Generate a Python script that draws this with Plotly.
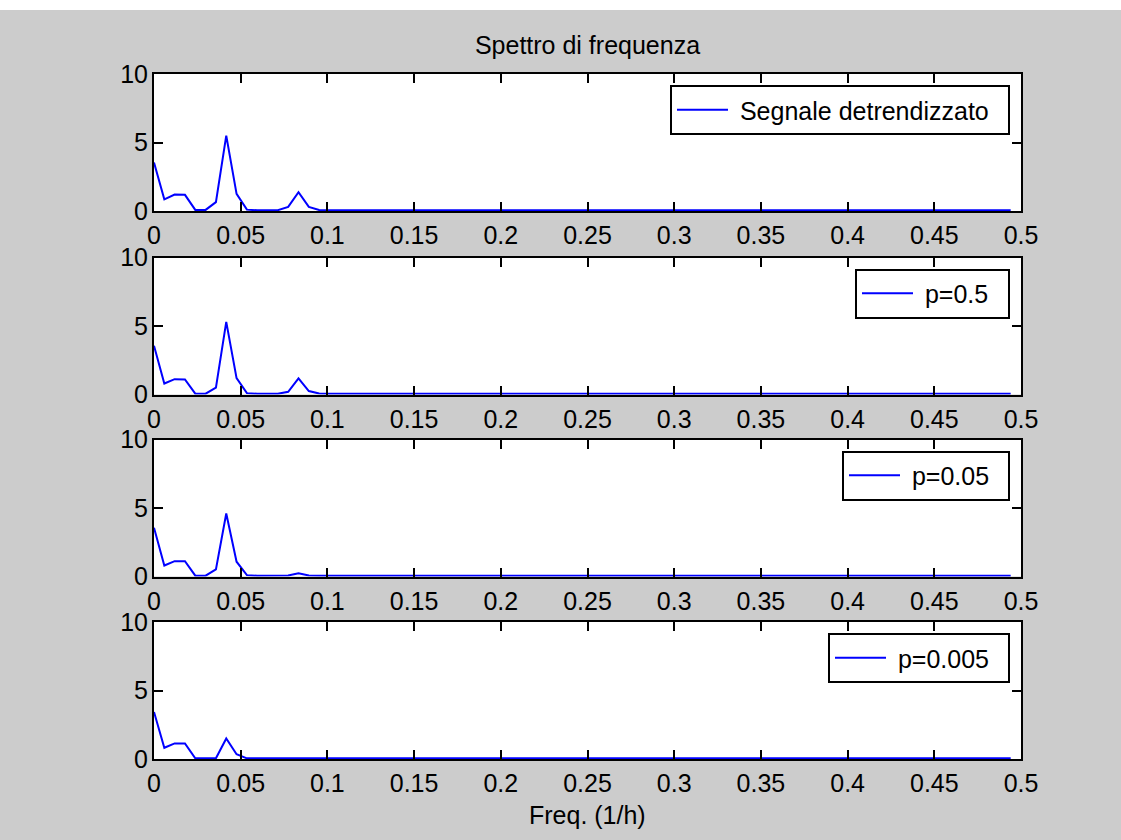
import plotly.graph_objects as go

# ---------------- data ----------------
N_SAMPLES = 168                      # hourly samples -> frequency step 1/168 (1/h)
freq = [k / N_SAMPLES for k in range(84)]

TAIL = [0.05, 0.05, 0.05, 0.05, 0.05, 0.05, 0.05, 0.05, 0.05, 0.05,
        0.05, 0.05, 0.05, 0.05, 0.05, 0.05, 0.05, 0.05, 0.05, 0.05,
        0.05, 0.05, 0.05, 0.05, 0.05, 0.05, 0.05, 0.05, 0.05, 0.05,
        0.05, 0.05, 0.05, 0.05, 0.05, 0.05, 0.05, 0.05, 0.05, 0.05,
        0.05, 0.05, 0.05, 0.05, 0.05, 0.05, 0.05, 0.05, 0.05, 0.05,
        0.05, 0.05, 0.05, 0.05, 0.05, 0.05, 0.05, 0.05, 0.05, 0.05,
        0.05, 0.05, 0.05, 0.05, 0.05, 0.05, 0.05]

spec_detrended = [3.54, 0.85, 1.20, 1.18, 0.08, 0.08, 0.65, 5.50, 1.25, 0.10,
                  0.05, 0.05, 0.06, 0.30, 1.37, 0.30, 0.08] + TAIL
spec_p05 = [3.56, 0.80, 1.12, 1.10, 0.06, 0.06, 0.50, 5.30, 1.20, 0.10,
            0.05, 0.05, 0.05, 0.20, 1.18, 0.25, 0.07] + TAIL
spec_p005 = [3.56, 0.80, 1.12, 1.12, 0.06, 0.06, 0.52, 4.60, 1.08, 0.10,
             0.05, 0.05, 0.05, 0.08, 0.24, 0.08, 0.05] + TAIL
spec_p0005 = [3.43, 0.82, 1.14, 1.14, 0.05, 0.05, 0.05, 1.50, 0.35, 0.05,
              0.05, 0.05, 0.05, 0.05, 0.05, 0.05, 0.05] + TAIL

series = [spec_detrended, spec_p05, spec_p005, spec_p0005]
names = ["Segnale detrendizzato", "p=0.5", "p=0.05", "p=0.005"]

xtick_vals = [0, 0.05, 0.1, 0.15, 0.2, 0.25, 0.3, 0.35, 0.4, 0.45, 0.5]
xtick_text = ["0", "0.05", "0.1", "0.15", "0.2", "0.25", "0.3", "0.35", "0.4", "0.45", "0.5"]
ytick_vals = [0, 5, 10]
ytick_text = ["0", "5", "10"]

title_text = "Spettro di frequenza"
xlabel_text = "Freq. (1/h)"

# ---------------- layout geometry (pixels) ----------------
W, H = 1121, 840
ML, MR, MT, MB = 154, 100, 74, 81
PH = H - MT - MB
PW = W - ML - MR
panel_tops = [74, 257.5, 439.5, 622]
panel_h = 137


def py(pix):
    return (H - MB - pix) / PH


def px(pix):
    return (pix - ML) / PW


FONT = "Liberation Sans, Arial, sans-serif"
FS = 25
GRAY = "#cccccc"
NB = "\u00a0"

fig = go.Figure()
for i, (vals, nm) in enumerate(zip(series, names)):
    sfx = "" if i == 0 else str(i + 1)
    fig.add_trace(go.Scatter(
        x=freq, y=vals, mode="lines", name=NB + nm + NB + NB,
        line=dict(color="#0000ff", width=2),
        xaxis="x" + sfx, yaxis="y" + sfx,
        legend="legend" + sfx, showlegend=True,
    ))

layout = dict(
    width=W, height=H,
    margin=dict(l=ML, r=MR, t=MT, b=MB, pad=0),
    paper_bgcolor=GRAY, plot_bgcolor="white",
    font=dict(family=FONT, size=FS, color="black"),
    title=dict(text=title_text, x=px(587.5), xref="paper", xanchor="center",
               y=1 - 45 / H, yref="container", yanchor="middle",
               font=dict(size=FS, family=FONT, color="black")),
)

for i in range(4):
    sfx = "" if i == 0 else str(i + 1)
    top = panel_tops[i]
    bot = top + panel_h
    dom = [py(bot), py(top)]
    axcommon = dict(showline=True, linecolor="black", linewidth=2, mirror="ticks",
                    ticks="inside", ticklen=9, tickwidth=2, tickcolor="black",
                    showgrid=False, zeroline=False,
                    tickfont=dict(family=FONT, size=FS, color="black"))
    layout["xaxis" + sfx] = dict(axcommon, domain=[0, 1], range=[0, 0.5],
                                 tickvals=xtick_vals, ticktext=xtick_text,
                                 anchor="y" + sfx, ticklabelstandoff=1)
    layout["yaxis" + sfx] = dict(axcommon, domain=dom, range=[0, 10],
                                 tickvals=ytick_vals, ticktext=ytick_text,
                                 anchor="x" + sfx, ticklabelstandoff=-1)
    layout["legend" + sfx] = dict(
        x=px(1010), xanchor="right", xref="paper",
        y=py(top + 11), yanchor="top", yref="paper",
        bgcolor="white", bordercolor="black", borderwidth=2,
        font=dict(family=FONT, size=FS, color="black"),
        itemwidth=51, tracegroupgap=0,
    )

fig.update_layout(**layout)

fig.add_annotation(text=xlabel_text, x=px(587.5), xref="paper", xanchor="center",
                   y=py(815), yref="paper", yanchor="middle", showarrow=False,
                   font=dict(family=FONT, size=FS, color="black"))

# white strip at the very top of the window, as in the reference
fig.add_shape(type="rect", xref="paper", yref="paper",
              x0=px(0), x1=px(W), y0=py(10), y1=py(0),
              fillcolor="white", line=dict(width=0), layer="below")

fig.write_html("out.html",
               config={"displayModeBar": False},
               post_script="document.body.style.margin='0';"
                           "document.body.style.overflow='hidden';")
